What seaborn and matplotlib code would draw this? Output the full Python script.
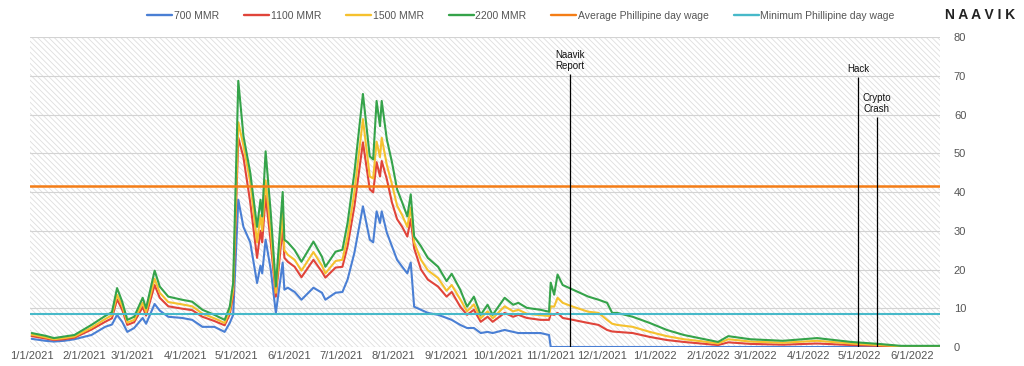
import pandas as pd
import matplotlib
matplotlib.use("Agg")
import matplotlib.pyplot as plt
from matplotlib.patches import Rectangle
from matplotlib.lines import Line2D
import seaborn as sns

sns.set_style("white")
plt.rcParams["font.family"] = ["Liberation Sans", "DejaVu Sans"]
plt.rcParams["hatch.linewidth"] = 0.6

# data (daily earnings in $ by MMR)
dates = [
    "2021-01-01", "2021-01-09", "2021-01-14", "2021-01-20", "2021-01-26",
    "2021-02-05", "2021-02-13", "2021-02-17", "2021-02-20", "2021-02-23", "2021-02-26",
    "2021-03-02", "2021-03-07", "2021-03-09", "2021-03-14", "2021-03-17", "2021-03-22", "2021-03-30",
    "2021-04-05", "2021-04-11", "2021-04-18", "2021-04-24", "2021-04-27", "2021-04-29",
    "2021-05-02", "2021-05-05", "2021-05-09", "2021-05-13", "2021-05-15", "2021-05-16",
    "2021-05-18", "2021-05-21", "2021-05-24", "2021-05-28", "2021-05-29", "2021-05-31",
    "2021-06-04", "2021-06-08", "2021-06-15", "2021-06-20", "2021-06-22", "2021-06-28",
    "2021-07-02", "2021-07-05", "2021-07-09", "2021-07-14", "2021-07-18", "2021-07-20",
    "2021-07-22", "2021-07-24", "2021-07-25", "2021-07-28", "2021-07-31",
    "2021-08-03", "2021-08-06", "2021-08-09", "2021-08-11", "2021-08-13", "2021-08-17", "2021-08-21", "2021-08-27",
    "2021-09-01", "2021-09-04", "2021-09-09", "2021-09-13", "2021-09-17", "2021-09-21", "2021-09-25", "2021-09-28",
    "2021-10-05", "2021-10-10", "2021-10-13", "2021-10-18", "2021-10-26", "2021-10-31",
    "2021-11-01", "2021-11-03", "2021-11-05", "2021-11-08", "2021-11-14", "2021-11-23", "2021-11-29",
    "2021-12-04", "2021-12-07", "2021-12-10", "2021-12-19", "2021-12-29",
    "2022-01-08", "2022-01-18", "2022-01-28", "2022-02-07", "2022-02-13", "2022-02-26",
    "2022-03-17", "2022-04-06", "2022-04-26", "2022-05-12", "2022-05-25", "2022-06-17",
]

mmr_700 = [
    2.1, 1.6, 1.4, 1.6, 2.0,
    3.1, 5.2, 5.8, 8.3, 6.5, 3.9,
    4.9, 7.5, 6.0, 11.1, 9.4, 7.8, 7.5,
    7.0, 5.2, 5.2, 3.9, 6.2, 8.3,
    38.0, 31.0, 27.0, 16.5, 21.0, 19.0, 27.7, 20.0, 8.8, 21.8, 14.8, 15.3,
    14.2, 12.2, 15.3, 14.0, 12.2, 14.0,
    14.2, 17.4, 24.3, 36.3, 27.7, 27.0, 35.0, 32.0, 35.0, 29.5, 26.0,
    22.5, 20.7, 19.0, 21.8, 10.4, 9.6, 8.8, 8.3,
    7.5, 7.0, 5.7, 4.9, 4.9, 3.6, 3.9, 3.6,
    4.4, 3.9, 3.6, 3.6, 3.6, 3.1,
    0, 0, 0, 0, 0, 0, 0,
    0, 0, 0, 0, 0,
    0, 0, 0, 0, 0, 0, 0, 0, 0, 0, 0, 0,
]
mmr_1100 = [
    2.8, 2.2, 1.8, 2.0, 2.4,
    4.5, 6.5, 7.4, 12.3, 9.6, 5.7,
    6.4, 10.3, 8.1, 16.0, 12.7, 10.5, 9.9,
    9.5, 7.8, 6.7, 5.6, 8.4, 13.4,
    54.0, 49.0, 37.3, 23.0, 30.0, 27.0, 39.0, 27.0, 13.0, 31.0, 23.0, 22.0,
    20.7, 18.0, 22.5, 19.4, 17.9, 20.5,
    20.7, 26.0, 36.3, 52.8, 40.7, 39.9, 47.7, 44.0, 48.0, 43.3, 37.3,
    33.0, 31.0, 28.5, 33.0, 25.5, 20.0, 17.4, 15.6,
    13.0, 14.2, 10.4, 8.3, 9.6, 6.5, 7.8, 6.5,
    8.8, 7.8, 8.3, 7.5, 7.0, 7.0,
    8.5, 8.3, 8.8, 7.5, 7.0, 6.2, 5.7,
    4.4, 4.0, 3.9, 3.6, 2.6,
    1.8, 1.3, 0.9, 0.5, 1.2, 0.8, 0.6, 0.9, 0.5, 0.3, 0.1, 0.1,
]
mmr_1500 = [
    3.2, 2.5, 2.0, 2.3, 2.7,
    5.0, 7.2, 8.2, 13.5, 10.6, 6.3,
    7.0, 11.4, 9.0, 17.6, 14.0, 11.6, 11.0,
    10.5, 8.6, 7.4, 6.2, 9.3, 14.8,
    58.0, 52.0, 42.5, 27.0, 34.0, 30.0, 43.0, 30.0, 14.0, 34.7, 25.0, 23.8,
    22.5, 19.7, 24.5, 21.0, 19.0, 22.2,
    22.5, 28.5, 40.0, 58.8, 44.0, 43.5, 53.0, 49.0, 54.0, 47.0, 42.0,
    36.5, 34.0, 31.0, 36.0, 27.0, 22.5, 19.8, 17.8,
    14.5, 16.0, 12.3, 9.2, 11.0, 7.4, 9.2, 7.4,
    10.5, 9.2, 9.6, 8.6, 8.2, 8.0,
    10.5, 10.4, 12.7, 11.4, 10.4, 9.1, 8.8,
    7.0, 6.0, 5.7, 5.2, 3.9,
    2.8, 2.0, 1.5, 0.9, 2.0, 1.4, 1.1, 1.6, 0.9, 0.5, 0.2, 0.2,
]
mmr_2200 = [
    3.6, 2.9, 2.3, 2.7, 3.1,
    5.7, 8.0, 9.0, 15.2, 11.7, 7.0,
    7.8, 12.7, 10.0, 19.7, 15.6, 13.0, 12.2,
    11.7, 9.6, 8.3, 7.0, 10.4, 16.6,
    68.7, 54.5, 45.0, 31.0, 38.0, 33.7, 50.5, 34.7, 15.6, 40.0, 27.7, 27.0,
    25.0, 22.0, 27.2, 23.3, 20.7, 24.6,
    25.1, 32.0, 45.0, 65.3, 49.2, 48.4, 63.5, 57.0, 63.5, 53.6, 47.7,
    40.7, 37.3, 33.7, 39.4, 28.5, 26.0, 23.0, 20.7,
    17.0, 18.9, 14.8, 10.4, 13.0, 8.3, 10.9, 8.3,
    12.7, 10.9, 11.4, 10.1, 9.6, 9.1,
    16.6, 13.5, 18.7, 16.0, 14.8, 13.0, 12.2,
    11.4, 8.8, 8.8, 7.8, 6.2,
    4.4, 3.1, 2.2, 1.3, 2.8, 2.0, 1.6, 2.3, 1.3, 0.8, 0.3, 0.3,
]

avg_wage = 41.5
min_wage = 8.5

event_labels = ["Naavik\nReport", "Hack", "Crypto\nCrash"]
event_dates = ["2021-11-12", "2022-04-30", "2022-05-11"]
event_tops = [70.5, 69.7, 59.3]

series_names = ["700 MMR", "1100 MMR", "1500 MMR", "2200 MMR"]
colors = ["#4a7fd4", "#e0443a", "#f5c12e", "#35a34a"]
avg_color = "#f47d16"
min_color = "#47b9c9"

df = pd.DataFrame({"date": pd.to_datetime(dates),
                   "700 MMR": mmr_700, "1100 MMR": mmr_1100,
                   "1500 MMR": mmr_1500, "2200 MMR": mmr_2200})
long_df = df.melt(id_vars="date", var_name="series", value_name="value")

fig = plt.figure(figsize=(10.24, 3.66), dpi=100)
ax = fig.add_axes([30 / 1024, 1 - 347 / 366, 910 / 1024, 310 / 366])

# hatched background
ax.add_patch(Rectangle((0, 0), 1, 1, transform=ax.transAxes, fill=False,
                       hatch="\\\\\\\\\\\\", edgecolor="#dedede", linewidth=0, zorder=0))

sns.lineplot(data=long_df, x="date", y="value", hue="series", hue_order=series_names,
             palette=colors, linewidth=1.5, ax=ax, legend=False, zorder=3)

ax.axhline(avg_wage, color=avg_color, linewidth=1.8, zorder=4)
ax.axhline(min_wage, color=min_color, linewidth=1.5, zorder=4)

ev = pd.to_datetime(event_dates)
ax.vlines(ev, 0, event_tops, color="black", linewidth=0.9, zorder=5)
for d, top, lab in zip(ev, event_tops, event_labels):
    ax.text(d, top + 0.8, lab, ha="center", va="bottom", fontsize=7, color="#111111",
            linespacing=1.1)

ax.set_xlim(pd.Timestamp("2020-12-31"), pd.Timestamp("2022-06-17"))
ax.set_ylim(0, 80)
ax.set_yticks(range(0, 81, 10))
ax.yaxis.tick_right()
ax.grid(axis="y", color="#d3d3d3", linewidth=0.8)
ax.grid(axis="x", visible=False)
ax.set_axisbelow(True)

ticks = pd.date_range("2021-01-01", "2022-06-01", freq="MS")
ax.set_xticks(ticks)
ax.set_xticklabels([f"{t.month}/{t.day}/{t.year}" for t in ticks])
ax.tick_params(axis="x", length=0, pad=3, labelsize=8, labelcolor="#555555")
ax.tick_params(axis="y", length=0, pad=10, labelsize=8, labelcolor="#555555")
ax.set_xlabel("")
ax.set_ylabel("")
for s in ax.spines.values():
    s.set_visible(False)

handles = [Line2D([], [], color=c, linewidth=1.7) for c in colors]
handles += [Line2D([], [], color=avg_color, linewidth=1.7),
            Line2D([], [], color=min_color, linewidth=1.7)]
labels = series_names + ["Average Phillipine day wage", "Minimum Phillipine day wage"]
leg = fig.legend(handles, labels, loc="center", bbox_to_anchor=(521 / 1024, 1 - 16 / 366),
                 ncol=6, frameon=False, fontsize=7.5, handlelength=2.4, handletextpad=0.15,
                 columnspacing=2.4)
for t in leg.get_texts():
    t.set_color("#555555")

fig.text(980 / 1024, 1 - 15 / 366, "N A A V I K", ha="center", va="center",
         fontsize=10, fontweight="bold", color="#222222")

fig.savefig("out.png", dpi=100)
